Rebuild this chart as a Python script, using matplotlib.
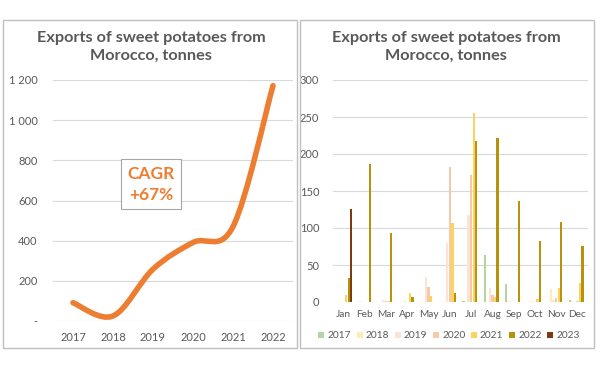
import numpy as np
from matplotlib import pyplot as plt
from matplotlib.path import Path
from matplotlib.patches import PathPatch, Rectangle

plt.rcParams['font.family'] = ['Lato', 'DejaVu Sans']

# yearly totals (left chart)
years = ['2017', '2018', '2019', '2020', '2021', '2022']
totals = [91, 25, 258, 391, 470, 1172]

# monthly values (right chart)
months = ['Jan', 'Feb', 'Mar', 'Apr', 'May', 'Jun', 'Jul', 'Aug', 'Sep', 'Oct', 'Nov', 'Dec']
series_names = ['2017', '2018', '2019', '2020', '2021', '2022', '2023']
m2017 = [0, 0, 0, 0, 0, 0, 1, 63, 24, 0, 0, 3]
m2018 = [0, 1, 0, 0, 0, 0, 0, 0, 1, 0, 18, 2]
m2019 = [0, 0, 3, 1, 34, 80, 117, 19, 0, 1, 3, 0]
m2020 = [0, 0, 2, 0, 20, 183, 171, 9, 0, 0, 5, 1]
m2021 = [10, 0, 2, 12, 8, 107, 255, 7, 0, 4, 19, 26]
m2022 = [32, 186, 93, 7, 0, 12, 218, 221, 136, 83, 108, 76]
m2023 = [126, 0, 0, 0, 0, 0, 0, 0, 0, 0, 0, 0]
series_colors = ['#B3D6A0', '#FCECB8', '#FBE3D6', '#F6C9A8', '#FDD35C', '#B8920A', '#7E3A10']

grey = '#595959'
grid_c = '#D9D9D9'
orange = '#ED7D31'

fig = plt.figure(figsize=(6, 3.76), dpi=100)

# panel frames
for x0 in [3 / 600, 300 / 600]:
    fig.patches.append(Rectangle((x0, 1 - 348 / 376), 294 / 600, 328 / 376, transform=fig.transFigure,
                                 fill=False, edgecolor='#BFBFBF', linewidth=1))

# ---- left chart: smoothed line ----
ax1 = fig.add_axes([53 / 600, 1 - 321 / 376, 240 / 600, 241 / 376])
xs = np.arange(len(totals))
pts = list(zip(xs, totals))
verts = [pts[0]]
codes = [Path.MOVETO]
for i in range(len(pts) - 1):
    p0 = np.array(pts[max(i - 1, 0)], float)
    p1 = np.array(pts[i], float)
    p2 = np.array(pts[i + 1], float)
    p3 = np.array(pts[min(i + 2, len(pts) - 1)], float)
    c1 = p1 + (p2 - p0) / 6
    c2 = p2 - (p3 - p1) / 6
    verts += [tuple(c1), tuple(c2), tuple(p2)]
    codes += [Path.CURVE4] * 3
ax1.add_patch(PathPatch(Path(verts, codes), fill=False, edgecolor=orange, linewidth=4,
                        capstyle='round', joinstyle='round', clip_on=False))
ax1.set_xlim(-0.5, 5.5)
ax1.set_ylim(0, 1200)
ax1.set_xticks(xs)
ax1.set_xticklabels(years)
ax1.set_yticks([0, 200, 400, 600, 800, 1000, 1200])
ax1.set_yticklabels(['-', '200', '400', '600', '800', '1 000', '1 200'])
ax1.grid(axis='y', color=grid_c, linewidth=0.8)
ax1.set_axisbelow(True)
for s in ax1.spines.values():
    s.set_visible(False)
ax1.tick_params(length=0, colors=grey, labelsize=8)
ax1.tick_params(axis='y', pad=11)
ax1.tick_params(axis='x', pad=8)
ax1.text(0.408, 0.568, 'CAGR\n+67%', transform=ax1.transAxes, ha='center', va='center',
         fontsize=12.5, fontweight='bold', color=orange, linespacing=1.4,
         bbox=dict(boxstyle='square,pad=0.38', facecolor='white', edgecolor='#A6A6A6', linewidth=0.8))
fig.text(151 / 600, 1 - 47 / 376, 'Exports of sweet potatoes from\nMorocco, tonnes', ha='center', va='center',
         fontsize=11.7, fontweight='bold', color=grey, linespacing=1.3)

# ---- right chart: grouped bars ----
ax2 = fig.add_axes([333 / 600, 1 - 302 / 376, 255 / 600, 222 / 376])
data = [m2017, m2018, m2019, m2020, m2021, m2022, m2023]
mx = np.arange(len(months))
w = 0.12
for i, (name, vals) in enumerate(zip(series_names, data)):
    ax2.bar(mx + (i - 3) * w, vals, width=w * 0.9, color=series_colors[i], label=name, linewidth=0)
ax2.set_xlim(-0.5, 11.5)
ax2.set_ylim(0, 300)
ax2.set_xticks(mx)
ax2.set_xticklabels(months)
ax2.set_yticks(range(0, 301, 50))
ax2.grid(axis='y', color=grid_c, linewidth=0.8)
ax2.set_axisbelow(True)
for s in ax2.spines.values():
    s.set_visible(False)
ax2.tick_params(length=0, colors=grey, labelsize=8)
ax2.tick_params(axis='x', labelsize=7.3, pad=6)
ax2.tick_params(axis='y', pad=10)
fig.text(446 / 600, 1 - 47 / 376, 'Exports of sweet potatoes from\nMorocco, tonnes', ha='center', va='center',
         fontsize=11.7, fontweight='bold', color=grey, linespacing=1.3)
leg = fig.legend(loc='center', bbox_to_anchor=(449 / 600, 1 - 336 / 376), ncol=7, frameon=False,
                 fontsize=7.3, handlelength=0.6, handleheight=0.6, handletextpad=0.3, columnspacing=0.55,
                 borderaxespad=0)
for t in leg.get_texts():
    t.set_color(grey)

plt.savefig('out.png', dpi=100)
